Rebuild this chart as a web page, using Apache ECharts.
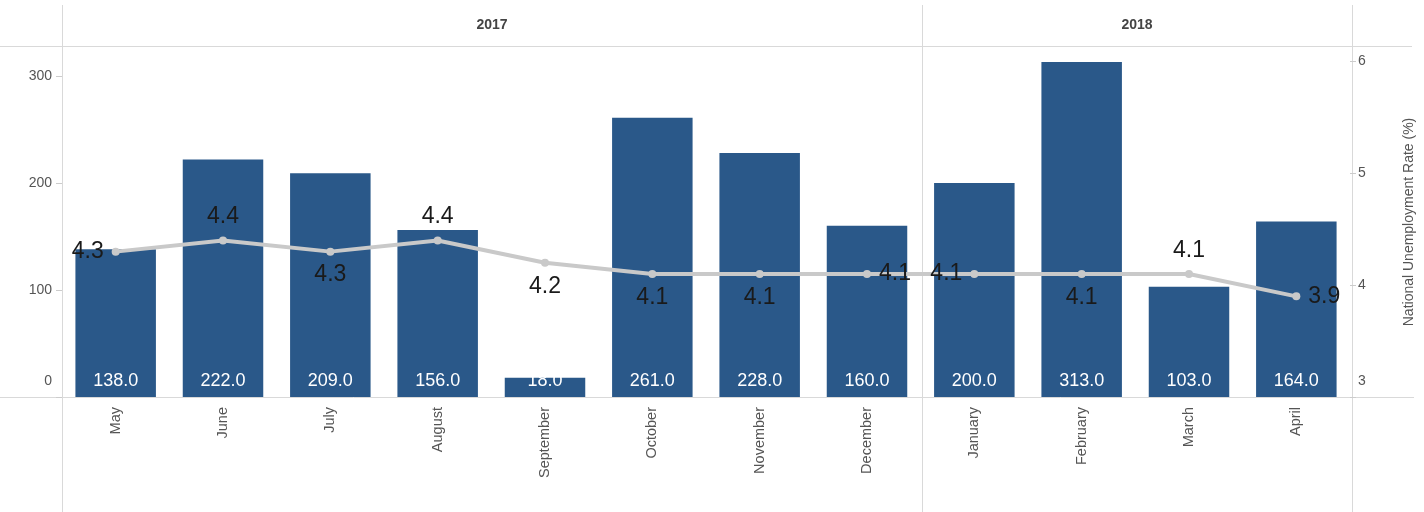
<!DOCTYPE html>
<html><head><meta charset="utf-8">
<script src="https://cdn.jsdelivr.net/npm/echarts@6/dist/echarts.min.js"></script>
<style>html,body{margin:0;padding:0;background:#fff}#c{width:1424px;height:512px}</style>
</head><body><div id="c"></div>
<script>
const months = ['May','June','July','August','September','October','November','December','January','February','March','April'];
const years = ['2017','2018'];
const jobsAdded = [138, 222, 209, 156, 18, 261, 228, 160, 200, 313, 103, 164];
const unemploymentRate = [4.3, 4.4, 4.3, 4.4, 4.2, 4.1, 4.1, 4.1, 4.1, 4.1, 4.1, 3.9];
const leftTicks = [0, 100, 200, 300];
const rightTicks = [3, 4, 5, 6];

const chart = echarts.init(document.getElementById('c'));
const labelPos = ['left','top','bottom','top','bottom','bottom','bottom','right','left','bottom','top','right'];
const G = {left:62, right:1352, top:47, bottom:397};
const lineCol = '#d9d9d9';
const txt = '#555';
const FF = 'Liberation Sans, Arial';
const richLow = {lo:{padding:[0,0,32,0], fontSize:14, color:txt, fontFamily:FF}};
chart.setOption({
  animation:false,
  grid:{left:G.left, right:1424-G.right, top:G.top, bottom:512-G.bottom, containLabel:false},
  xAxis:{type:'category', data:months, axisLine:{show:false}, axisTick:{show:false},
    axisLabel:{rotate:90, fontSize:14.5, color:txt, fontFamily:FF, margin:10}},
  yAxis:[
    {type:'value', min:0, max:327, interval:100, splitLine:{show:false}, axisLine:{show:false},
     axisTick:{show:true, length:6, lineStyle:{color:'#ccc'}},
     axisLabel:{showMaxLabel:false, fontSize:14, color:txt, margin:10, fontFamily:FF, rich:richLow,
       formatter:v=>v===leftTicks[0]?'{lo|'+v+'}':(leftTicks.includes(v)?String(v):'')}},
    {type:'value', min:3, max:6.13, interval:1, position:'right', splitLine:{show:false}, axisLine:{show:false},
     axisTick:{show:true, length:6, lineStyle:{color:'#ccc'}},
     axisLabel:{showMaxLabel:false, fontSize:14, color:txt, margin:8, fontFamily:FF, rich:richLow,
       formatter:v=>v===rightTicks[0]?'{lo|'+v+'}':(rightTicks.includes(v)?String(v):'')},
     name:'National Unemployment Rate (%)', nameLocation:'middle', nameRotate:90, nameGap:52,
     nameTextStyle:{fontSize:14, color:txt, fontFamily:FF}}
  ],
  series:[
    {type:'bar', data:jobsAdded, barCategoryGap:'25%', itemStyle:{color:'#2a5889'}, z:2,
     label:{show:true, position:'insideBottom', distance:7, color:'#fff', fontSize:18,
       fontFamily:FF, formatter:p=>p.value.toFixed(1)}},
    {type:'line', yAxisIndex:1, z:5, symbol:'circle', symbolSize:8,
     lineStyle:{color:'#c9c9c9', width:4}, itemStyle:{color:'#c9c9c9'},
     data:unemploymentRate.map((v,i)=>({value:v, label:{position:labelPos[i]}})),
     label:{show:true, color:'#1a1a1a', fontSize:23, distance:8, fontFamily:FF,
       formatter:p=>p.value.toFixed(1)}}
  ],
  graphic:[
    {type:'line', shape:{x1:0,y1:46.5,x2:1412,y2:46.5}, style:{stroke:lineCol, lineWidth:1}, silent:true},
    {type:'line', shape:{x1:0,y1:397.5,x2:1414,y2:397.5}, style:{stroke:lineCol, lineWidth:1}, silent:true},
    {type:'line', shape:{x1:62.5,y1:5,x2:62.5,y2:512}, style:{stroke:lineCol, lineWidth:1}, silent:true},
    {type:'line', shape:{x1:922.5,y1:5,x2:922.5,y2:512}, style:{stroke:lineCol, lineWidth:1}, silent:true},
    {type:'line', shape:{x1:1352.5,y1:5,x2:1352.5,y2:512}, style:{stroke:lineCol, lineWidth:1}, silent:true},
    {type:'text', x:492, y:25, style:{text:years[0], fill:'#444', font:'bold 14px Liberation Sans, Arial', textAlign:'center', textVerticalAlign:'middle'}},
    {type:'text', x:1137, y:25, style:{text:years[1], fill:'#444', font:'bold 14px Liberation Sans, Arial', textAlign:'center', textVerticalAlign:'middle'}}
  ]
});
</script></body></html>
